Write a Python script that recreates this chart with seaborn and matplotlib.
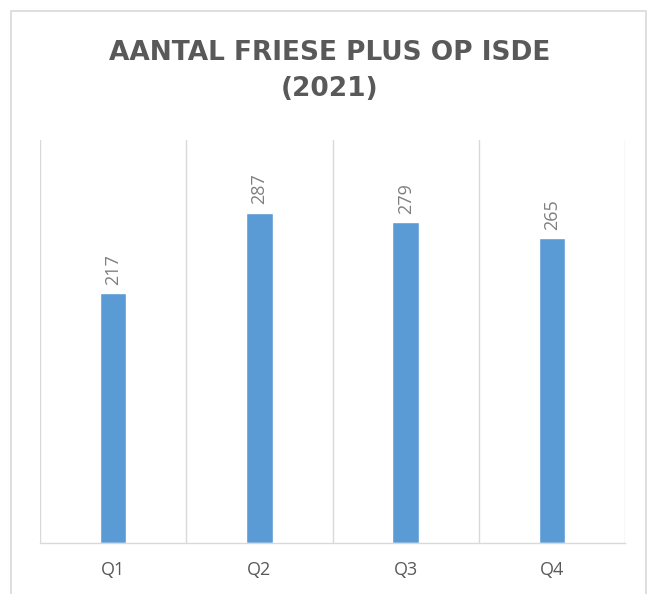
import matplotlib
matplotlib.use("Agg")
import matplotlib.pyplot as plt
from matplotlib.patches import Rectangle
from matplotlib.ticker import FixedLocator
import pandas as pd
import seaborn as sns

# data
quarters = ["Q1", "Q2", "Q3", "Q4"]
counts = [217, 287, 279, 265]
title = "AANTAL FRIESE PLUS OP ISDE\n(2021)"

bar_color = "#5B9BD5"
grid_color = "#D9D9D9"
text_color = "#595959"

sns.set_style("white")
plt.rcParams["font.family"] = ["Open Sans", "DejaVu Sans"]

df = pd.DataFrame({"kwartaal": quarters, "aantal": counts})

fig = plt.figure(figsize=(6.6, 5.94), dpi=100)
ax = fig.add_axes([40 / 660, 51 / 594, 585 / 660, 403 / 594])

sns.barplot(data=df, x="kwartaal", y="aantal", color=bar_color, width=0.18,
            saturation=1, ax=ax)

ax.set_xlim(-0.5, len(quarters) - 0.5)
ax.set_ylim(0, 350)

# category boundaries as vertical gridlines
ax.xaxis.set_minor_locator(FixedLocator([i - 0.5 for i in range(len(quarters) + 1)]))
ax.grid(which="minor", axis="x", color=grid_color, linewidth=1)
ax.tick_params(axis="x", which="both", length=0, colors=text_color, labelsize=13, pad=13)
ax.set_yticks([])
ax.set_xlabel("")
ax.set_ylabel("")

for side in ["top", "left", "right"]:
    ax.spines[side].set_visible(False)
ax.spines["bottom"].set_color(grid_color)
ax.spines["bottom"].set_linewidth(1)

for i, v in enumerate(counts):
    ax.text(i, v + 7, str(v), rotation=90, ha="center", va="bottom",
            color="#7F7F7F", fontsize=13)

fig.text(0.5, 1 - 71 / 594, title, ha="center", va="center", fontsize=19,
         fontweight="bold", color=text_color, linespacing=1.45,
         family=["DejaVu Sans"])

# outer chart frame
fig.patches.append(Rectangle((11 / 660, -0.1), 635 / 660, 0.1 + 583 / 594,
                             transform=fig.transFigure, fill=False,
                             edgecolor=grid_color, linewidth=1.2))

fig.savefig("out.png", dpi=100)
